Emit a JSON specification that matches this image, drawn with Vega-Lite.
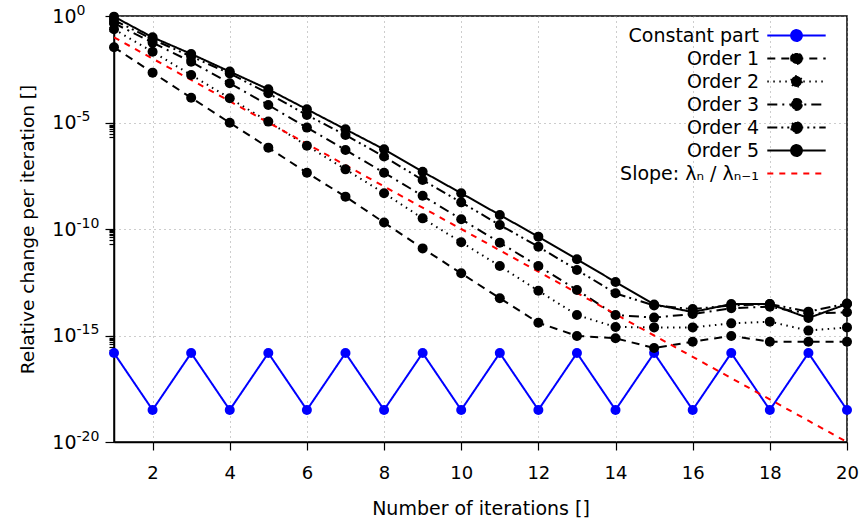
{
  "$schema": "https://vega.github.io/schema/vega-lite/v6.json",
  "width": 733,
  "height": 426,
  "autosize": "none",
  "padding": {"left": 114, "top": 16, "right": 17, "bottom": 77},
  "background": "white",
  "config": {
    "font": "DejaVu Sans",
    "view": {"stroke": "black", "strokeWidth": 1.5},
    "axis": {
      "domainColor": "black",
      "domainWidth": 1.5,
      "tickColor": "black",
      "tickWidth": 1.2,
      "labelColor": "black",
      "labelFontSize": 18,
      "titleFontSize": 19,
      "titleFontWeight": "normal",
      "titleColor": "black",
      "grid": true,
      "gridColor": "#9a9a9a",
      "gridDash": [1, 4],
      "gridWidth": 1
    }
  },
  "data": {
    "values": [
      {"n": 1, "Constant part": 1.5e-16, "Order 1": 3.39e-2, "Order 2": 0.24, "Order 3": 0.457, "Order 4": 0.646, "Order 5": 0.933, "Slope: λₙ / λₙ₋₁": 1e-1},
      {"n": 2, "Constant part": 3.2e-19, "Order 1": 2.19e-3, "Order 2": 2.09e-2, "Order 3": 5.62e-2, "Order 4": 7.94e-2, "Order 5": 1.0e-1, "Slope: λₙ / λₙ₋₁": 1e-2},
      {"n": 3, "Constant part": 1.5e-16, "Order 1": 1.45e-4, "Order 2": 1.7e-3, "Order 3": 7.08e-3, "Order 4": 1.26e-2, "Order 5": 1.66e-2, "Slope: λₙ / λₙ₋₁": 1e-3},
      {"n": 4, "Constant part": 3.2e-19, "Order 1": 9.77e-6, "Order 2": 1.38e-4, "Order 3": 6.92e-4, "Order 4": 2.0e-3, "Order 5": 2.45e-3, "Slope: λₙ / λₙ₋₁": 1e-4},
      {"n": 5, "Constant part": 1.5e-16, "Order 1": 6.61e-7, "Order 2": 1.1e-5, "Order 3": 6.61e-5, "Order 4": 2.34e-4, "Order 5": 3.63e-4, "Slope: λₙ / λₙ₋₁": 1e-5},
      {"n": 6, "Constant part": 3.2e-19, "Order 1": 4.37e-8, "Order 2": 8.13e-7, "Order 3": 5.75e-6, "Order 4": 2.24e-5, "Order 5": 4.17e-5, "Slope: λₙ / λₙ₋₁": 1e-6},
      {"n": 7, "Constant part": 1.5e-16, "Order 1": 3.31e-9, "Order 2": 6.31e-8, "Order 3": 5.13e-7, "Order 4": 2.57e-6, "Order 5": 4.79e-6, "Slope: λₙ / λₙ₋₁": 1e-7},
      {"n": 8, "Constant part": 3.2e-19, "Order 1": 2.0e-10, "Order 2": 4.79e-9, "Order 3": 4.37e-8, "Order 4": 2.51e-7, "Order 5": 5.5e-7, "Slope: λₙ / λₙ₋₁": 1e-8},
      {"n": 9, "Constant part": 1.5e-16, "Order 1": 1.23e-11, "Order 2": 3.16e-10, "Order 3": 3.63e-9, "Order 4": 2.0e-8, "Order 5": 4.9e-8, "Slope: λₙ / λₙ₋₁": 1e-9},
      {"n": 10, "Constant part": 3.2e-19, "Order 1": 8.32e-13, "Order 2": 2.4e-11, "Order 3": 2.88e-10, "Order 4": 1.78e-9, "Order 5": 4.79e-9, "Slope: λₙ / λₙ₋₁": 1e-10},
      {"n": 11, "Constant part": 1.5e-16, "Order 1": 5.62e-14, "Order 2": 1.82e-12, "Order 3": 2.29e-11, "Order 4": 1.55e-10, "Order 5": 4.57e-10, "Slope: λₙ / λₙ₋₁": 1e-11},
      {"n": 12, "Constant part": 3.2e-19, "Order 1": 3.98e-15, "Order 2": 1.26e-13, "Order 3": 1.82e-12, "Order 4": 1.48e-11, "Order 5": 4.37e-11, "Slope: λₙ / λₙ₋₁": 1e-12},
      {"n": 13, "Constant part": 1.5e-16, "Order 1": 9.55e-16, "Order 2": 9.12e-15, "Order 3": 1.38e-13, "Order 4": 1.2e-12, "Order 5": 3.8e-12, "Slope: λₙ / λₙ₋₁": 1e-13},
      {"n": 14, "Constant part": 3.2e-19, "Order 1": 7.41e-16, "Order 2": 2.51e-15, "Order 3": 9.12e-15, "Order 4": 9.55e-14, "Order 5": 3.24e-13, "Slope: λₙ / λₙ₋₁": 1e-14},
      {"n": 15, "Constant part": 1.5e-16, "Order 1": 2.57e-16, "Order 2": 2.4e-15, "Order 3": 6.92e-15, "Order 4": 2.57e-14, "Order 5": 2.88e-14, "Slope: λₙ / λₙ₋₁": 1e-15},
      {"n": 16, "Constant part": 3.2e-19, "Order 1": 5.13e-16, "Order 2": 2.4e-15, "Order 3": 1.02e-14, "Order 4": 1.74e-14, "Order 5": 1.26e-14, "Slope: λₙ / λₙ₋₁": 1e-16},
      {"n": 17, "Constant part": 1.5e-16, "Order 1": 9.55e-16, "Order 2": 3.72e-15, "Order 3": 1.91e-14, "Order 4": 2.57e-14, "Order 5": 3.0e-14, "Slope: λₙ / λₙ₋₁": 1e-17},
      {"n": 18, "Constant part": 3.2e-19, "Order 1": 5.13e-16, "Order 2": 4.47e-15, "Order 3": 2.24e-14, "Order 4": 3.0e-14, "Order 5": 3.0e-14, "Slope: λₙ / λₙ₋₁": 1e-18},
      {"n": 19, "Constant part": 1.5e-16, "Order 1": 5.13e-16, "Order 2": 1.7e-15, "Order 3": 1.07e-14, "Order 4": 1.32e-14, "Order 5": 6.6e-15, "Slope: λₙ / λₙ₋₁": 1e-19},
      {"n": 20, "Constant part": 3.2e-19, "Order 1": 5.13e-16, "Order 2": 2.4e-15, "Order 3": 1.23e-14, "Order 4": 3.16e-14, "Order 5": 3.0e-14, "Slope: λₙ / λₙ₋₁": 1e-20}
    ]
  },
  "transform": [
    {"fold": ["Constant part", "Order 1", "Order 2", "Order 3", "Order 4", "Order 5", "Slope: λₙ / λₙ₋₁"], "as": ["series", "value"]}
  ],
  "encoding": {
    "x": {
      "field": "n", "type": "quantitative",
      "scale": {"domain": [1, 20], "nice": false, "zero": false},
      "axis": {
        "title": "Number of iterations []",
        "values": [2, 4, 6, 8, 10, 12, 14, 16, 18, 20],
        "tickSize": 8,
        "labelFontSize": 18,
        "titleFontSize": 19,
        "labelPadding": 14,
        "labelFlush": false,
        "titlePadding": 17
      }
    },
    "color": {
      "field": "series", "type": "nominal",
      "scale": {
        "domain": ["Constant part", "Order 1", "Order 2", "Order 3", "Order 4", "Order 5", "Slope: λₙ / λₙ₋₁"],
        "range": ["#0000ff", "#000000", "#000000", "#000000", "#000000", "#000000", "#ff0000"]
      },
      "legend": {
        "title": null,
        "orient": "none",
        "legendX": 673,
        "legendY": 10,
        "padding": 0,
        "symbolType": "stroke",
        "symbolSize": 64,
        "symbolStrokeWidth": 2,
        "labelAlign": "right",
        "labelOffset": -47,
        "labelFontSize": 19,
        "labelColor": "black",
        "labelLimit": 400,
        "rowPadding": 3,
        "encode": {
          "symbols": {
            "update": {
              "shape": {"signal": "datum.value === 'Slope: λₙ / λₙ₋₁' ? 'M-7.3,0H7.3' : 'M-7.3,0H7.3M1.35,0A1.35,1.35,0,1,1,-1.35,0A1.35,1.35,0,1,1,1.35,0Z'"},
              "fill": {"signal": "datum.value === 'Slope: λₙ / λₙ₋₁' ? 'transparent' : scale('color', datum.value)"}
            }
          }
        }
      }
    }
  },
  "resolve": {"axis": {"y": "independent"}},
  "layer": [
    {
      "mark": {"type": "line", "strokeWidth": 2, "clip": true},
      "encoding": {
        "y": {
          "field": "value", "type": "quantitative",
          "scale": {"type": "log", "domain": [1e-20, 1], "nice": false},
          "axis": {
            "orient": "left",
            "title": "Relative change per iteration []",
            "values": [1, 0.9, 0.8, 0.7, 0.6, 0.5, 0.4, 0.3, 0.2,
                       1e-5, 9e-6, 8e-6, 7e-6, 6e-6, 5e-6, 4e-6, 3e-6, 2e-6,
                       1e-10, 9e-11, 8e-11, 7e-11, 6e-11, 5e-11, 4e-11, 3e-11, 2e-11,
                       1e-15, 9e-16, 8e-16, 7e-16, 6e-16, 5e-16, 4e-16, 3e-16, 2e-16,
                       1e-20],
            "labelExpr": "indexof([1, 1e-5, 1e-10, 1e-15, 1e-20], datum.value) >= 0 ? '10' : ''",
            "labelOverlap": false,
            "labelFlush": false,
            "labelFontSize": 19,
            "titleFontSize": 18.5,
            "tickSize": {"condition": {"test": "indexof([1, 1e-5, 1e-10, 1e-15, 1e-20], datum.value) >= 0", "value": 9}, "value": 5},
            "gridOpacity": {"condition": {"test": "indexof([1, 1e-5, 1e-10, 1e-15, 1e-20], datum.value) >= 0", "value": 1}, "value": 0},
            "labelPadding": 29,
            "titlePadding": 14
          }
        },
        "strokeDash": {
          "field": "series", "type": "nominal",
          "scale": {
            "domain": ["Constant part", "Order 1", "Order 2", "Order 3", "Order 4", "Order 5", "Slope: λₙ / λₙ₋₁"],
            "range": [[1, 0], [8, 6], [1.5, 4.5], [10, 5, 2, 5], [10, 4, 2, 4, 2, 4], [1, 0], [6, 6]]
          },
          "legend": {
            "title": null,
            "orient": "none",
            "legendX": 673,
            "legendY": 10,
            "padding": 0,
            "symbolType": "stroke",
            "symbolSize": 64,
            "symbolStrokeWidth": 2,
            "labelAlign": "right",
            "labelOffset": -47,
            "labelFontSize": 19,
            "labelColor": "black",
            "labelLimit": 400,
            "rowPadding": 3
          }
        }
      }
    },
    {
      "transform": [{"filter": "datum.series !== 'Slope: λₙ / λₙ₋₁'"}],
      "mark": {"type": "point", "filled": true, "opacity": 1, "size": 100, "shape": "circle"},
      "encoding": {
        "y": {
          "field": "value", "type": "quantitative",
          "scale": {"type": "log", "domain": [1e-20, 1], "nice": false},
          "axis": {
            "orient": "left",
            "title": null,
            "values": [1, 1e-5, 1e-10, 1e-15, 1e-20],
            "labelExpr": "datum.value == 1 ? '0' : datum.value == 1e-5 ? '-5' : datum.value == 1e-10 ? '-10' : datum.value == 1e-15 ? '-15' : '-20'",
            "labelOverlap": false,
            "labelFlush": false,
            "labelFontSize": 14,
            "labelAlign": "left",
            "labelOffset": -6,
            "labelPadding": 38,
            "ticks": false,
            "domain": false,
            "grid": false
          }
        }
      }
    }
  ]
}
